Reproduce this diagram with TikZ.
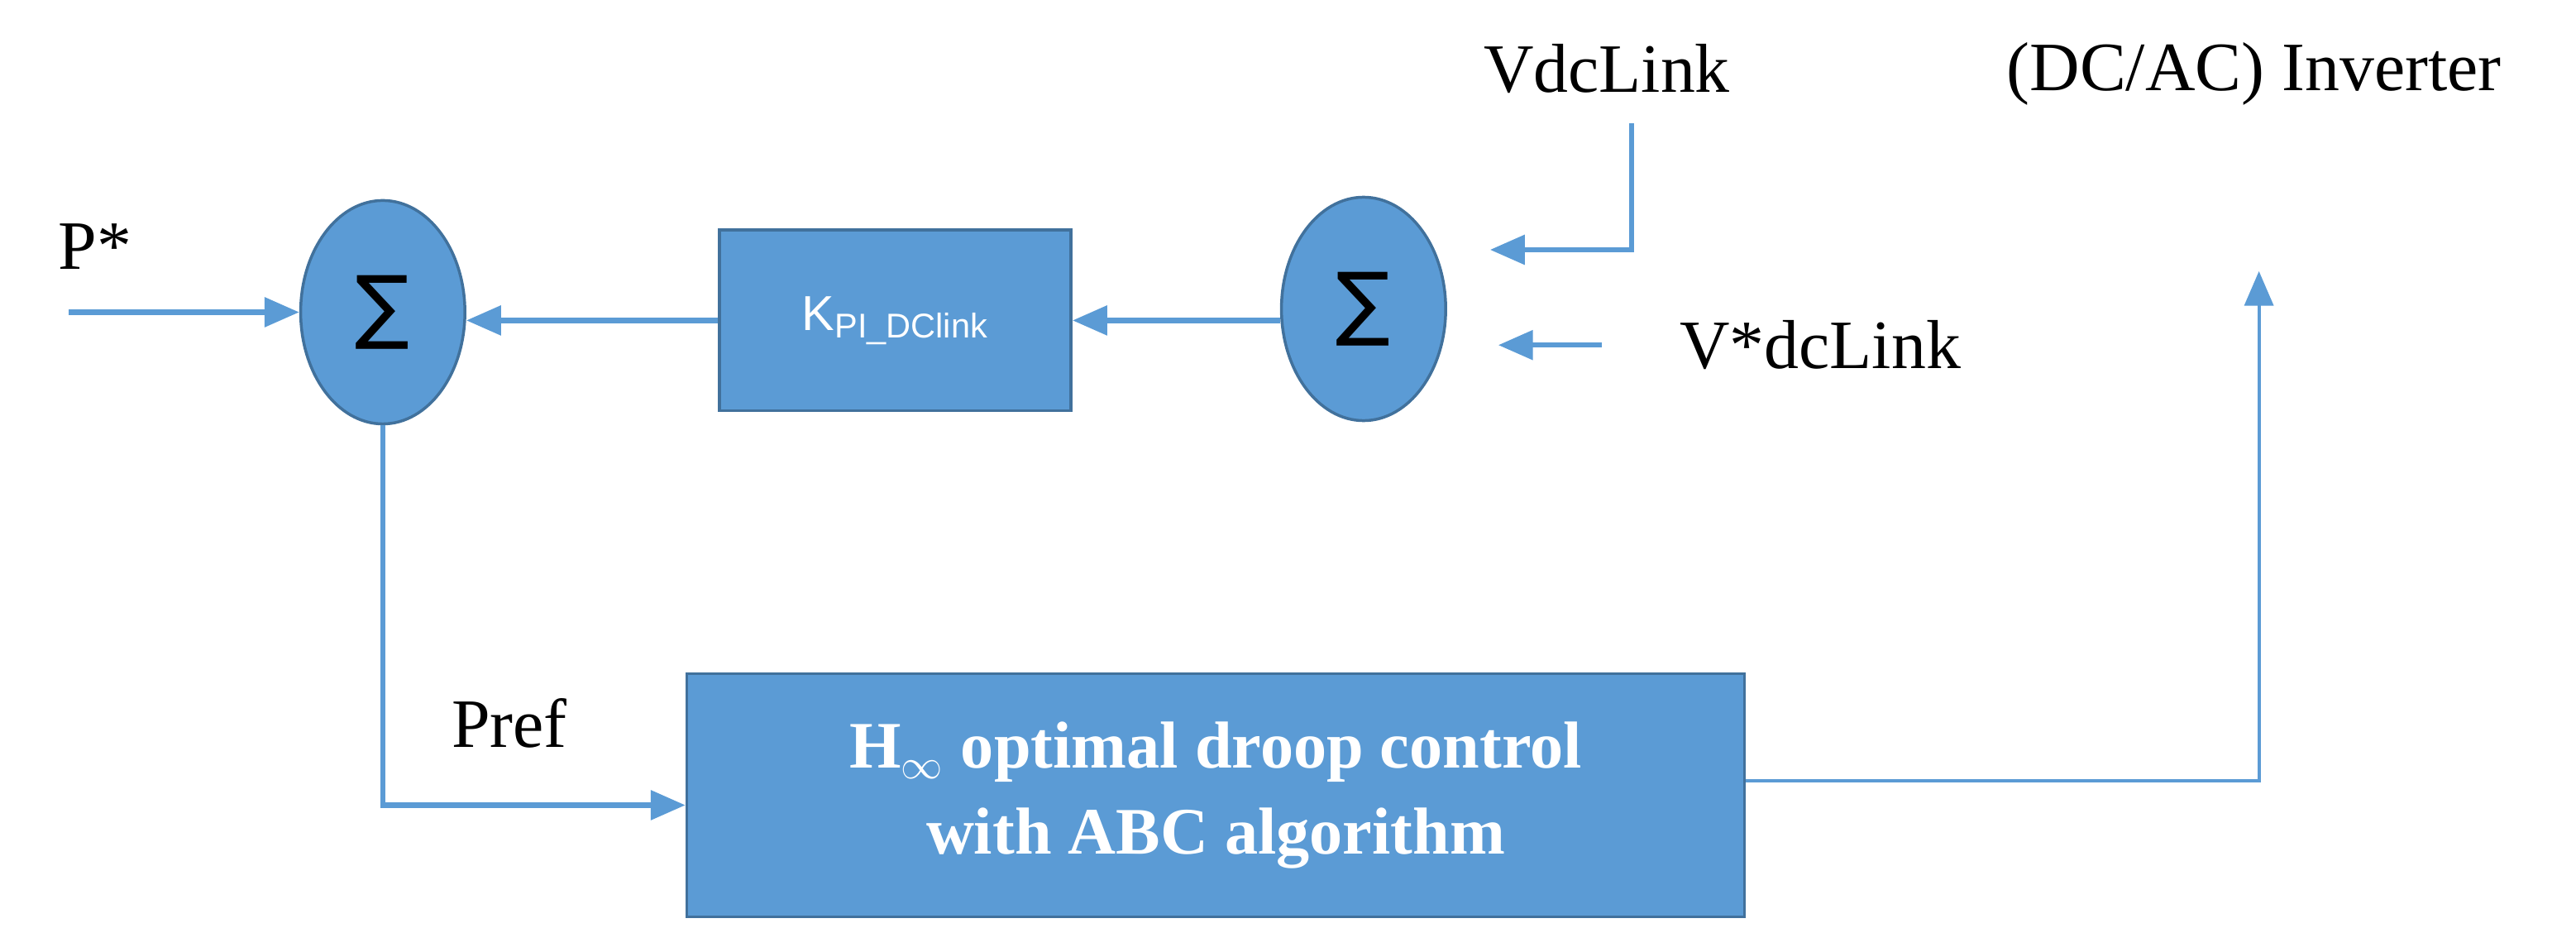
\documentclass[tikz,border=0pt]{standalone}
\usepackage{fontspec}
\setmainfont{Liberation Serif}
\newfontfamily\sansf{Liberation Sans}
\newfontfamily\dejav{DejaVu Sans}
\usetikzlibrary{arrows.meta,shapes.geometric}
\definecolor{bfill}{HTML}{5B9BD5}
\definecolor{bdraw}{HTML}{41719C}
\begin{document}
\begin{tikzpicture}[x=0.02cm,y=-0.02cm,
  sum/.style={ellipse,fill=bfill,draw=bdraw,line width=1pt,minimum width=2cm,minimum height=2.72cm,text=black,font=\dejav\fontsize{28}{30}\selectfont},
  blk/.style={rectangle,fill=bfill,draw=bdraw,line width=1pt,text=white},
  con/.style={draw=bfill,line width=1.8pt,-{Triangle[length=12pt,width=10pt]}},
  lab/.style={font=\fontsize{24}{28}\selectfont,inner sep=0}]
\useasboundingbox (0,0) rectangle (1568,579);
\node[sum] (s1) at (233,190) {∑};
\node[sum] (s2) at (830,188) {∑};
\node[blk,minimum width=4.28cm,minimum height=2.2cm,font=\sansf\fontsize{17}{20}\selectfont] (k) at (545,195) {K\textsubscript{PI\_DClink}};
\node[blk,minimum width=12.88cm,minimum height=2.96cm,font=\bfseries\fontsize{23}{30}\selectfont,align=center] (h) at (740,484) {H\textsubscript{\fontsize{14}{14}\selectfont$\infty$} optimal droop control\\with ABC algorithm};
\node[lab] (p) at (58,150) {P*};
\node[lab] (vdc) at (978,42) {VdcLink};
\node[lab] (vs) at (1108,210) {V*dcLink};
\node[lab] (inv) at (1372,45) {(DC/AC) Inverter};
\node[lab] (pref) at (310,440) {Pref};
\coordinate (pin) at (42,190);
\coordinate (vtop) at (993,75);
\coordinate (vcorner) at (993,152);
\coordinate (vsin) at (975,210);
\coordinate (s1b) at (233,490);
\coordinate (hout) at (1375,475);
\coordinate (invin) at (1375,165);
\draw[con] (pin) -- (s1.west);
\draw[con] (vtop) -- (vcorner) -- (907,152);
\draw[con] (vsin) -- (912,210);
\draw[con] (s2.west |- k.east) -- (k.east);
\draw[con] (k.west) -- (s1.east |- k.west);
\draw[con] (s1.south) -- (s1b) -- (h.west |- s1b);
\draw[draw=bfill,line width=1.2pt,-{Triangle[length=12pt,width=10pt]}] (h.east |- hout) -- (hout) -- (invin);
\end{tikzpicture}
\end{document}
